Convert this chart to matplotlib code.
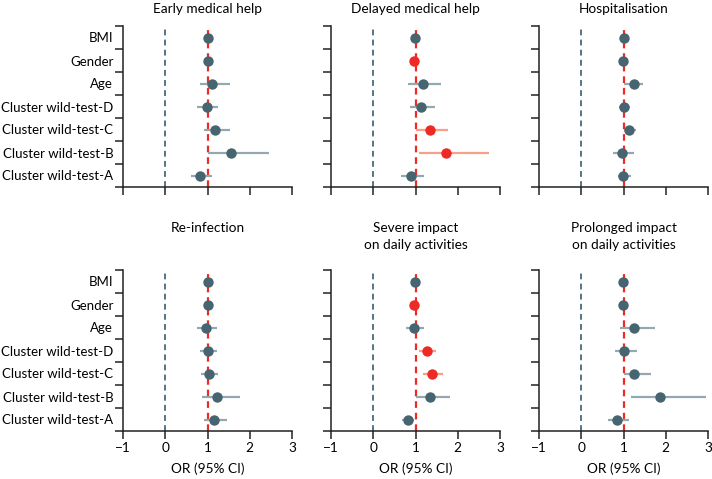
import numpy as np
import matplotlib.pyplot as plt

plt.rcParams["font.family"] = ["Lato", "DejaVu Sans"]

labels = ["BMI", "Gender", "Age", "Cluster wild-test-D",
          "Cluster wild-test-C", "Cluster wild-test-B", "Cluster wild-test-A"]
titles = ["Early medical help", "Delayed medical help", "Hospitalisation",
          "Re-infection", "Severe impact\non daily activities",
          "Prolonged impact\non daily activities"]

# odds ratios, lower and upper 95% CI, significance flag (per panel, label order)
early_or = [1.00, 1.00, 1.10, 0.98, 1.18, 1.55, 0.82]
early_lo = [0.98, 0.98, 0.82, 0.76, 0.92, 1.02, 0.61]
early_hi = [1.02, 1.02, 1.53, 1.25, 1.53, 2.45, 1.10]
early_sig = [0, 0, 0, 0, 0, 0, 0]

delayed_or = [0.98, 0.96, 1.17, 1.13, 1.35, 1.73, 0.89]
delayed_lo = [0.96, 0.94, 0.83, 0.87, 1.01, 1.09, 0.66]
delayed_hi = [1.00, 0.98, 1.61, 1.46, 1.76, 2.74, 1.19]
delayed_sig = [0, 1, 0, 0, 1, 1, 0]

hosp_or = [1.00, 0.98, 1.24, 1.01, 1.13, 0.97, 0.99]
hosp_lo = [0.98, 0.96, 1.02, 0.89, 1.02, 0.76, 0.86]
hosp_hi = [1.02, 1.00, 1.47, 1.15, 1.29, 1.26, 1.17]
hosp_sig = [0, 0, 0, 0, 0, 0, 0]

reinf_or = [1.00, 1.00, 0.96, 1.00, 1.03, 1.23, 1.16]
reinf_lo = [0.98, 0.98, 0.74, 0.82, 0.84, 0.86, 0.92]
reinf_hi = [1.02, 1.02, 1.23, 1.23, 1.25, 1.77, 1.45]
reinf_sig = [0, 0, 0, 0, 0, 0, 0]

severe_or = [0.98, 0.97, 0.97, 1.27, 1.39, 1.35, 0.83]
severe_lo = [0.96, 0.95, 0.78, 1.09, 1.18, 1.02, 0.69]
severe_hi = [1.00, 0.99, 1.20, 1.49, 1.65, 1.82, 0.97]
severe_sig = [0, 1, 0, 1, 1, 0, 0]

prol_or = [0.98, 0.98, 1.26, 1.02, 1.26, 1.86, 0.84]
prol_lo = [0.96, 0.96, 0.91, 0.80, 1.01, 1.18, 0.64]
prol_hi = [1.00, 1.00, 1.75, 1.32, 1.64, 2.95, 1.12]
prol_sig = [0, 0, 0, 0, 0, 0, 0]

panels = [
    (early_or, early_lo, early_hi, early_sig),
    (delayed_or, delayed_lo, delayed_hi, delayed_sig),
    (hosp_or, hosp_lo, hosp_hi, hosp_sig),
    (reinf_or, reinf_lo, reinf_hi, reinf_sig),
    (severe_or, severe_lo, severe_hi, severe_sig),
    (prol_or, prol_lo, prol_hi, prol_sig),
]

DOT = "#476570"
BAR = "#93a8b0"
RED = "#ee2a24"
RED_BAR = "#f5a088"
ZERO = "#557580"
FS = 9.8

fig = plt.figure(figsize=(7.12, 4.79), dpi=100)
lefts = [123 / 712, 331 / 712, 539 / 712]
bottoms = [1 - 187 / 479, 1 - 431 / 479]
w = 169 / 712
h = 161 / 479

for i, (orv, lo, hi, sig) in enumerate(panels):
    row, col = divmod(i, 3)
    ax = fig.add_axes([lefts[col], bottoms[row], w, h])
    y = np.arange(len(labels))[::-1]
    ax.axvline(0, color=ZERO, lw=1.4, ls=(0, (3, 2.2)), zorder=1)
    ax.axvline(1, color=RED, lw=1.6, ls=(0, (3, 2.2)), zorder=1)
    for yy, o, l, u, s in zip(y, orv, lo, hi, sig):
        ax.plot([l, u], [yy, yy], color=RED_BAR if s else BAR, lw=1.6,
                solid_capstyle="butt", zorder=2)
        ax.plot(o, yy, "o", ms=7.5, color=RED if s else DOT, mec="none", zorder=3)
    ax.set_xlim(-1, 3)
    ax.set_ylim(-0.5, 6.5)
    ax.set_xticks([-1, 0, 1, 2, 3])
    ax.set_yticks(np.arange(-0.5, 7, 1))
    ax.set_yticklabels([])
    ax.set_yticks(y, minor=True)
    if col == 0:
        ax.set_yticklabels(labels, minor=True, fontsize=9.5)
    else:
        ax.set_yticklabels([], minor=True)
    ax.tick_params(axis="y", which="minor", length=0, pad=7)
    ax.tick_params(which="major", length=6, width=1.1, color="#222222")
    ax.tick_params(axis="x", pad=2)
    for s in ["top", "right"]:
        ax.spines[s].set_visible(False)
    for s in ["left", "bottom"]:
        ax.spines[s].set_linewidth(1.1)
        ax.spines[s].set_color("#222222")
    if row == 0:
        ax.set_xticklabels([])
        ax.text(0.5, 1.07, titles[i], transform=ax.transAxes, ha="center",
                va="bottom", fontsize=FS)
    else:
        ax.set_xticklabels(["\u22121", "0", "1", "2", "3"], fontsize=FS)
        ax.set_xlabel("OR (95% CI)", fontsize=FS, labelpad=6)
        ax.text(0.5, 1.30, titles[i], transform=ax.transAxes, ha="center",
                va="top", fontsize=FS, linespacing=1.5)

fig.savefig("out.png", dpi=100)
